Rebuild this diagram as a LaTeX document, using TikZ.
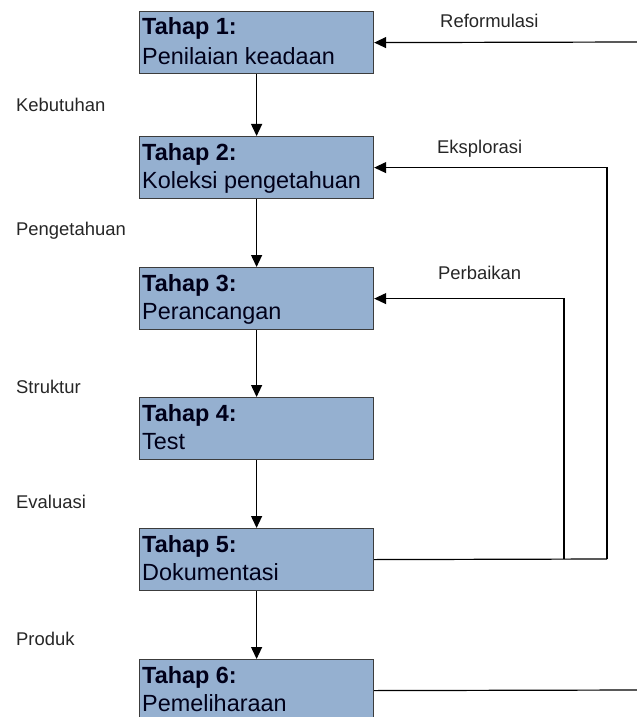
\documentclass[tikz,border=0pt]{standalone}
\usepackage{fontspec}
\setmainfont{Liberation Sans}
\usetikzlibrary{arrows.meta}
\definecolor{boxfill}{RGB}{149,176,208}
\definecolor{boxline}{RGB}{60,60,60}
\begin{document}
\begin{tikzpicture}[x=1bp,y=-1bp,
  stage/.style={draw=boxline,line width=1.2bp,fill=boxfill,minimum width=234bp,minimum height=62bp,inner sep=0pt,anchor=north west},
  head/.style={anchor=base west,inner sep=0pt,font=\fontsize{23.5}{27}\selectfont\bfseries,text=black!90!blue},
  body/.style={anchor=base west,inner sep=0pt,font=\fontsize{23.5}{27}\selectfont,text=black!90!blue},
  lbl/.style={anchor=base west,inner sep=0pt,font=\fontsize{18.5}{22}\selectfont,text=black!85},
  arr/.style={line width=1.2bp,-{Triangle[width=11bp,length=12bp]}},
  ln/.style={line width=1.2bp}]
\useasboundingbox (0,0) rectangle (637,717);
\clip (0,0) rectangle (637,717);
% stages
\node[stage] (b1) at (139,11) {};
\node[stage] (b2) at (139,136) {};
\node[stage] (b3) at (139,267) {};
\node[stage] (b4) at (139,397) {};
\node[stage] (b5) at (139,528) {};
\node[stage] (b6) at (139,659) {};
\node[head] (h1) at (142,35) {Tahap 1:};
\node[body] (t1) at (142,65) {Penilaian keadaan};
\node[head] (h2) at (142,160) {Tahap 2:};
\node[body] (t2) at (142,188) {Koleksi pengetahuan};
\node[head] (h3) at (142,291) {Tahap 3:};
\node[body] (t3) at (142,319) {Perancangan};
\node[head] (h4) at (142,421) {Tahap 4:};
\node[body] (t4) at (142,449) {Test};
\node[head] (h5) at (142,552) {Tahap 5:};
\node[body] (t5) at (142,580) {Dokumentasi};
\node[head] (h6) at (142,683) {Tahap 6:};
\node[body] (t6) at (142,711) {Pemeliharaan};
% vertical flow
\draw[arr] (b1.south) -- (b2.north);
\draw[arr] (b2.south) -- (b3.north);
\draw[arr] (b3.south) -- (b4.north);
\draw[arr] (b4.south) -- (b5.north);
\draw[arr] (b5.south) -- (b6.north);
% left labels
\node[lbl] (l1) at (16,112) {Kebutuhan};
\node[lbl] (l2) at (16,235) {Pengetahuan};
\node[lbl] (l3) at (16,393) {Struktur};
\node[lbl] (l4) at (16,508) {Evaluasi};
\node[lbl] (l5) at (16,645) {Produk};
% right labels
\node[lbl] (r1) at (440,28) {Reformulasi};
\node[lbl] (r2) at (437,153) {Eksplorasi};
\node[lbl] (r3) at (438,279) {Perbaikan};
% feedback connectors
\coordinate (refin) at (640,42);
\coordinate (refout) at (640,690);
\coordinate (ek) at (607,559);
\coordinate (pb) at (564,559);
\draw[arr] (refin) -- (b1.east);
\draw[ln] (b6.east) -- (refout);
\draw[ln] (b5.east) -- (ek);
\draw[arr] (ek) |- (b2.east);
\draw[arr] (pb) |- (b3.east);
\end{tikzpicture}
\end{document}
